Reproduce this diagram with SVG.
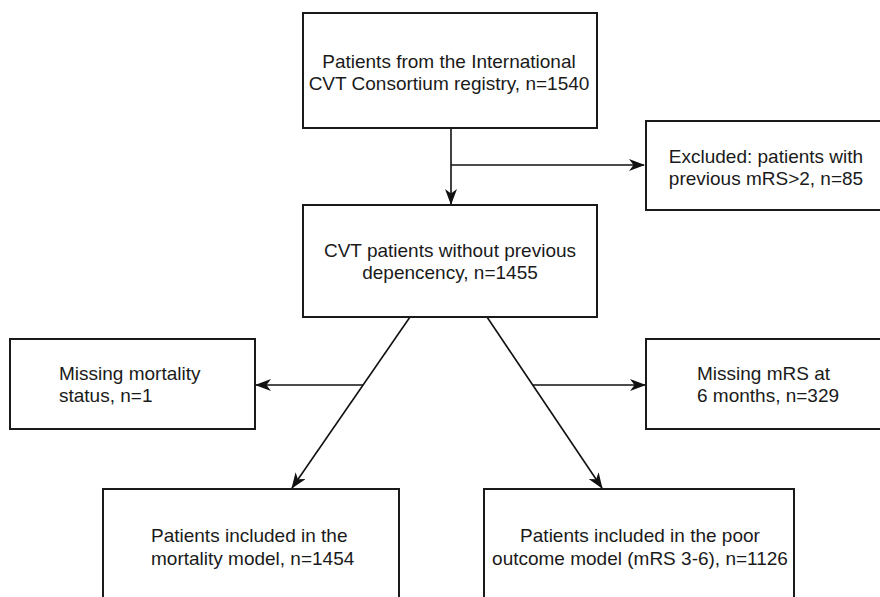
<svg xmlns="http://www.w3.org/2000/svg" width="880" height="597" viewBox="0 0 880 597">
<defs>
<style>
.box{fill:#fff;stroke:#1a1a1a;stroke-width:2}
.t{font-family:"Liberation Sans",Arial,sans-serif;font-size:19px;fill:#1a1a1a}
.c{text-anchor:middle}
.ln{fill:none;stroke:#111;stroke-width:1.6}
</style>
<marker id="ah" viewBox="0 0 16 12" markerWidth="16" markerHeight="12" refX="15" refY="6" orient="auto" markerUnits="userSpaceOnUse">
<path d="M0,0 L16,6 L0,12 L4.5,6 z" fill="#111"/>
</marker>
</defs>
<rect width="880" height="597" fill="#fff"/>
<g id="connectors">
<path class="ln" d="M451,128 V204" marker-end="url(#ah)"/>
<path class="ln" d="M451,165 H644" marker-end="url(#ah)"/>
<path class="ln" d="M410,317 L292,488" marker-end="url(#ah)"/>
<path class="ln" d="M363,385 H256" marker-end="url(#ah)"/>
<path class="ln" d="M487,317 L602,488" marker-end="url(#ah)"/>
<path class="ln" d="M533,385 H645" marker-end="url(#ah)"/>
</g>
<g id="n1">
<rect class="box" x="303" y="13" width="294" height="115"/>
<text class="t c" x="449" y="68">Patients from the International</text>
<text class="t c" x="449" y="90">CVT Consortium registry, n=1540</text>
</g>
<g id="n2">
<rect class="box" x="646" y="121" width="250" height="89"/>
<text class="t c" x="766" y="163">Excluded: patients with</text>
<text class="t c" x="766" y="185">previous mRS&gt;2, n=85</text>
</g>
<g id="n3">
<rect class="box" x="303" y="205" width="294" height="112"/>
<text class="t c" x="450" y="257">CVT patients without previous</text>
<text class="t c" x="450" y="279">depencency, n=1455</text>
</g>
<g id="n4">
<rect class="box" x="10" y="339" width="245" height="90"/>
<text class="t" x="59" y="380">Missing mortality</text>
<text class="t" x="59" y="402">status, n=1</text>
</g>
<g id="n5">
<rect class="box" x="646" y="339" width="250" height="90"/>
<text class="t" x="697" y="380">Missing mRS at</text>
<text class="t" x="697" y="402">6 months, n=329</text>
</g>
<g id="n6">
<rect class="box" x="103" y="489" width="296" height="130"/>
<text class="t" x="151" y="542">Patients included in the</text>
<text class="t" x="151" y="565">mortality model, n=1454</text>
</g>
<g id="n7">
<rect class="box" x="484" y="489" width="310" height="130"/>
<text class="t c" x="640" y="542">Patients included in the poor</text>
<text class="t c" x="640" y="565">outcome model (mRS 3-6), n=1126</text>
</g>
</svg>
